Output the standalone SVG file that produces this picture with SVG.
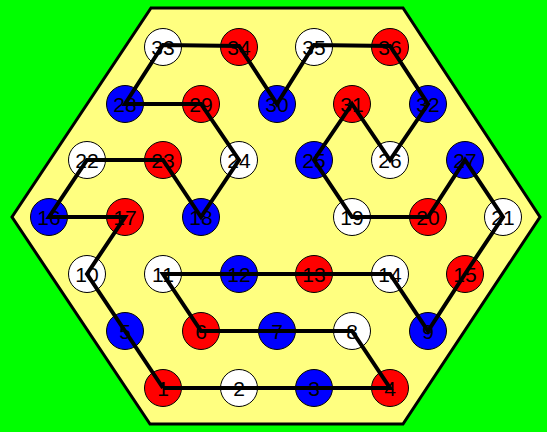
<svg xmlns="http://www.w3.org/2000/svg" width="547" height="432" viewBox="0 0 547 432">
<style>
.n circle{stroke:#000;stroke-width:1}
.r{fill:#FF0000}.b{fill:#0000FF}.w{fill:#FFFFFF}
.n text{font-family:"Liberation Sans",Arial,sans-serif;font-size:21px;fill:#000;text-anchor:middle}
#conn polyline{fill:none;stroke:#000;stroke-width:4;stroke-linejoin:miter}
</style>
<rect width="547" height="432" fill="#00FF00"/>
<polygon points="151,8 403,8 540,217 403,424 150,424 12,217" fill="#FFFF80" stroke="#000" stroke-width="3"/>
<g id="n1" class="n"><circle class="r" cx="163" cy="388" r="18.5"/><text x="163" y="395.5">1</text></g>
<g id="n2" class="n"><circle class="w" cx="239" cy="388" r="18.5"/><text x="239" y="395.5">2</text></g>
<g id="n3" class="n"><circle class="b" cx="314" cy="388" r="18.5"/><text x="314" y="395.5">3</text></g>
<g id="n4" class="n"><circle class="r" cx="390" cy="388" r="18.5"/><text x="390" y="395.5">4</text></g>
<g id="n5" class="n"><circle class="b" cx="125" cy="331" r="18.5"/><text x="125" y="338.5">5</text></g>
<g id="n6" class="n"><circle class="r" cx="201" cy="331" r="18.5"/><text x="201" y="338.5">6</text></g>
<g id="n7" class="n"><circle class="b" cx="277" cy="331" r="18.5"/><text x="277" y="338.5">7</text></g>
<g id="n8" class="n"><circle class="w" cx="352" cy="331" r="18.5"/><text x="352" y="338.5">8</text></g>
<g id="n9" class="n"><circle class="b" cx="428" cy="331" r="18.5"/><text x="428" y="338.5">9</text></g>
<g id="n10" class="n"><circle class="w" cx="87" cy="274" r="18.5"/><text x="87" y="281.5">10</text></g>
<g id="n11" class="n"><circle class="w" cx="163" cy="274" r="18.5"/><text x="163" y="281.5">11</text></g>
<g id="n12" class="n"><circle class="b" cx="239" cy="274" r="18.5"/><text x="239" y="281.5">12</text></g>
<g id="n13" class="n"><circle class="r" cx="314" cy="274" r="18.5"/><text x="314" y="281.5">13</text></g>
<g id="n14" class="n"><circle class="w" cx="390" cy="274" r="18.5"/><text x="390" y="281.5">14</text></g>
<g id="n15" class="n"><circle class="r" cx="465" cy="274" r="18.5"/><text x="465" y="281.5">15</text></g>
<g id="n16" class="n"><circle class="b" cx="49" cy="217" r="18.5"/><text x="49" y="224.5">16</text></g>
<g id="n17" class="n"><circle class="r" cx="125" cy="217" r="18.5"/><text x="125" y="224.5">17</text></g>
<g id="n18" class="n"><circle class="b" cx="201" cy="217" r="18.5"/><text x="201" y="224.5">18</text></g>
<g id="n19" class="n"><circle class="w" cx="352" cy="217" r="18.5"/><text x="352" y="224.5">19</text></g>
<g id="n20" class="n"><circle class="r" cx="428" cy="217" r="18.5"/><text x="428" y="224.5">20</text></g>
<g id="n21" class="n"><circle class="w" cx="503" cy="217" r="18.5"/><text x="503" y="224.5">21</text></g>
<g id="n22" class="n"><circle class="w" cx="87" cy="160" r="18.5"/><text x="87" y="167.5">22</text></g>
<g id="n23" class="n"><circle class="r" cx="163" cy="160" r="18.5"/><text x="163" y="167.5">23</text></g>
<g id="n24" class="n"><circle class="w" cx="239" cy="160" r="18.5"/><text x="239" y="167.5">24</text></g>
<g id="n25" class="n"><circle class="b" cx="314" cy="160" r="18.5"/><text x="314" y="167.5">25</text></g>
<g id="n26" class="n"><circle class="w" cx="390" cy="160" r="18.5"/><text x="390" y="167.5">26</text></g>
<g id="n27" class="n"><circle class="b" cx="465" cy="160" r="18.5"/><text x="465" y="167.5">27</text></g>
<g id="n28" class="n"><circle class="b" cx="125" cy="104" r="18.5"/><text x="125" y="111.5">28</text></g>
<g id="n29" class="n"><circle class="r" cx="201" cy="104" r="18.5"/><text x="201" y="111.5">29</text></g>
<g id="n30" class="n"><circle class="b" cx="277" cy="104" r="18.5"/><text x="277" y="111.5">30</text></g>
<g id="n31" class="n"><circle class="r" cx="352" cy="104" r="18.5"/><text x="352" y="111.5">31</text></g>
<g id="n32" class="n"><circle class="b" cx="428" cy="104" r="18.5"/><text x="428" y="111.5">32</text></g>
<g id="n33" class="n"><circle class="w" cx="163" cy="47" r="18.5"/><text x="163" y="54.5">33</text></g>
<g id="n34" class="n"><circle class="r" cx="239" cy="47" r="18.5"/><text x="239" y="54.5">34</text></g>
<g id="n35" class="n"><circle class="w" cx="314" cy="47" r="18.5"/><text x="314" y="54.5">35</text></g>
<g id="n36" class="n"><circle class="r" cx="390" cy="47" r="18.5"/><text x="390" y="54.5">36</text></g>
<g id="conn">
<polyline points="163,388 239,388 314,388 390,388 352,331 277,331 201,331 163,274 239,274 314,274 390,274 428,331 465,274 503,217 465,160 428,217 352,217 314,160 352,104 390,160 428,104 390,46 314,45 277,104 239,46 163,45 125,104 201,104 239,160 201,217 163,160 87,160 49,217 125,217 87,274 125,331 163,388"/>
</g>
</svg>
